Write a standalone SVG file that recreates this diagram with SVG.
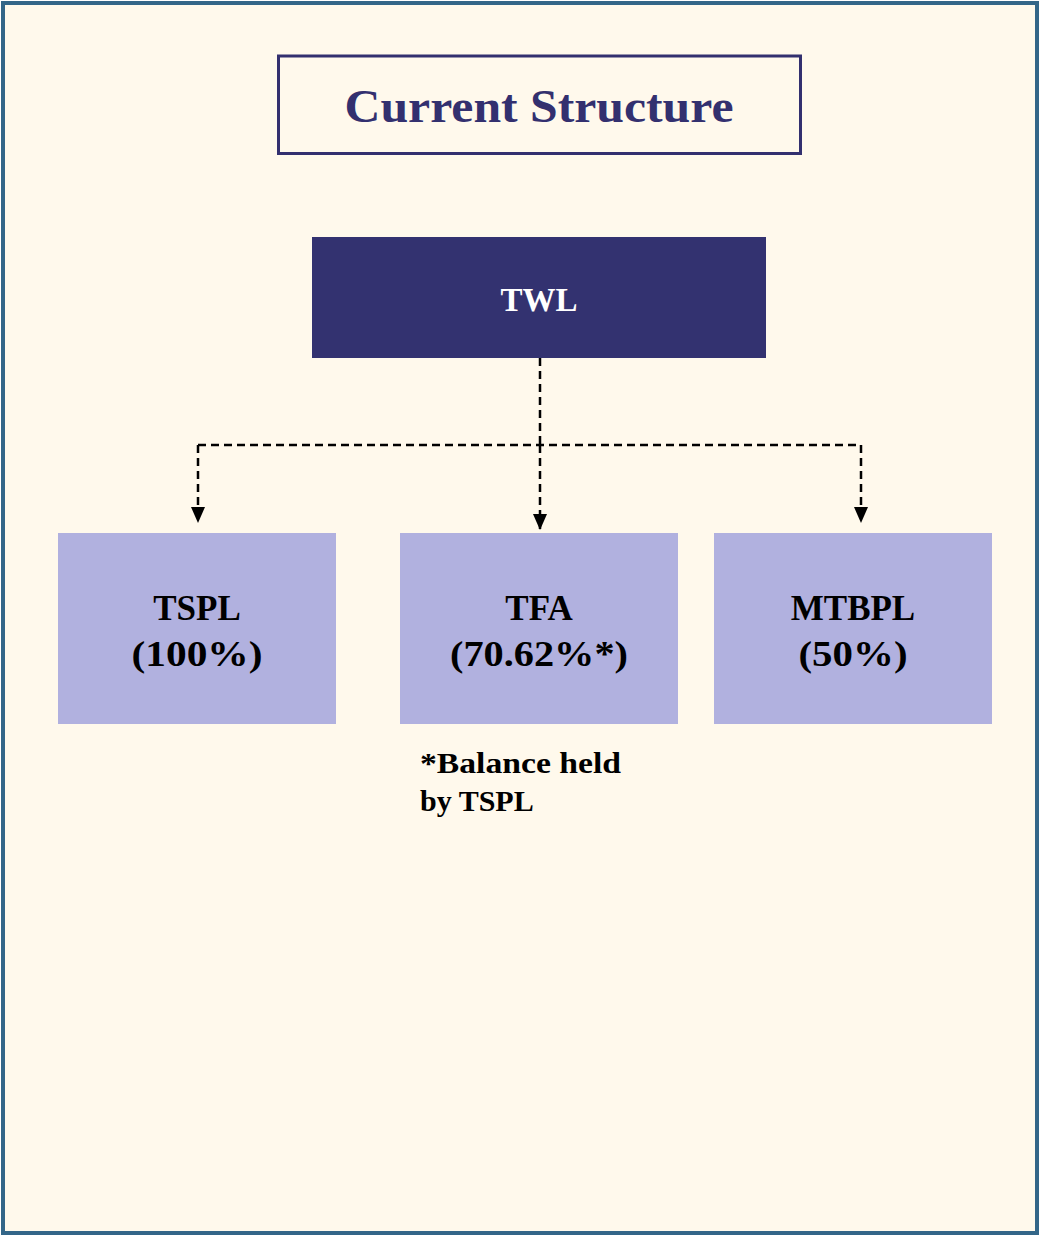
<svg xmlns="http://www.w3.org/2000/svg" width="1040" height="1236" viewBox="0 0 1040 1236">
<defs>
<style>
.t{font-family:"Liberation Serif","DejaVu Serif",serif;font-weight:bold;text-anchor:middle}
.child{fill:#b1b1df}
.lbl{font-size:35px;fill:#000}
.conn{fill:none;stroke:#000;stroke-width:2.5;stroke-dasharray:8 5}
</style>
<marker id="ah" viewBox="0 0 16 14" refX="15" refY="7" markerWidth="16" markerHeight="14" orient="auto" markerUnits="userSpaceOnUse">
<path d="M0,0 L16,7 L0,14 z" fill="#000"/>
</marker>
</defs>
<rect x="3" y="3" width="1034" height="1230" fill="#fff9ec" stroke="#336688" stroke-width="4"/>
<g id="title">
<rect x="278.5" y="56" width="522" height="97.5" fill="none" stroke="#33306f" stroke-width="3"/>
<text class="t" x="539" y="122" font-size="46" fill="#33306f" textLength="389" lengthAdjust="spacingAndGlyphs">Current Structure</text>
</g>
<g id="connectors">
<path class="conn" d="M540,358 V445"/>
<path class="conn" d="M198,445 H861"/>
<path class="conn" d="M198,445 V522" marker-end="url(#ah)"/>
<path class="conn" d="M540,445 V529" marker-end="url(#ah)"/>
<path class="conn" d="M861,445 V522" marker-end="url(#ah)"/>
</g>
<g id="TWL">
<rect x="312" y="237" width="454" height="121" fill="#333270"/>
<text class="t" x="539" y="311" font-size="33" fill="#fff">TWL</text>
</g>
<g id="TSPL">
<rect class="child" x="58" y="533" width="278" height="191"/>
<text class="t lbl" x="197" y="620">TSPL</text>
<text class="t lbl" x="197" y="666" textLength="131" lengthAdjust="spacingAndGlyphs">(100%)</text>
</g>
<g id="TFA">
<rect class="child" x="400" y="533" width="278" height="191"/>
<text class="t lbl" x="539" y="620">TFA</text>
<text class="t lbl" x="539" y="666" textLength="178" lengthAdjust="spacingAndGlyphs">(70.62%*)</text>
</g>
<g id="MTBPL">
<rect class="child" x="714" y="533" width="278" height="191"/>
<text class="t lbl" x="853" y="620">MTBPL</text>
<text class="t lbl" x="853" y="666" textLength="109" lengthAdjust="spacingAndGlyphs">(50%)</text>
</g>
<g id="note">
<text class="t" x="420" y="773" font-size="30" style="text-anchor:start" textLength="201" lengthAdjust="spacingAndGlyphs">*Balance held</text>
<text class="t" x="420" y="811" font-size="30" style="text-anchor:start">by TSPL</text>
</g>
</svg>
